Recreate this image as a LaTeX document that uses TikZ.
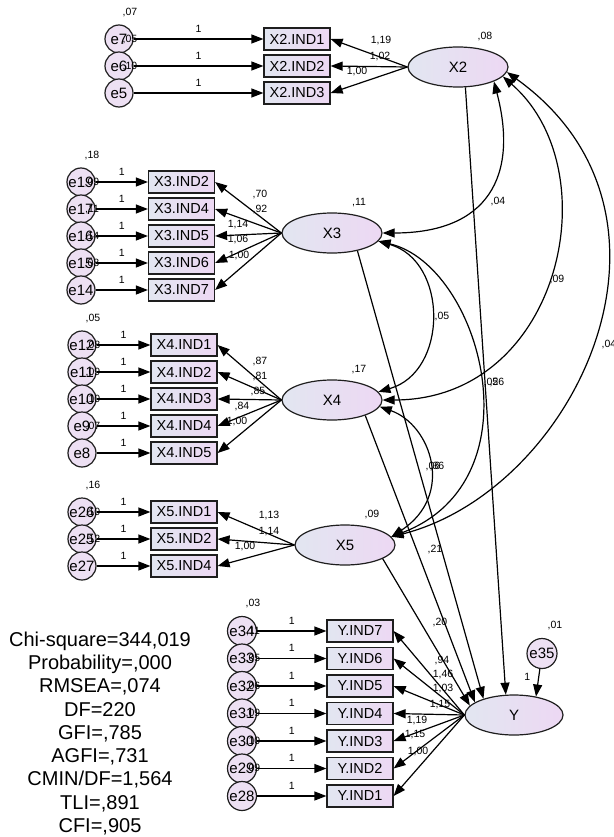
\documentclass[tikz,border=0pt]{standalone}
\usepackage{fontspec}
\setmainfont{Liberation Sans}
\definecolor{shadeleft}{RGB}{226,230,241}
\definecolor{shaderight}{RGB}{237,216,243}
\definecolor{errpink}{RGB}{237,224,243}
\definecolor{linegray}{RGB}{30,30,30}
\usetikzlibrary{arrows.meta,shapes.geometric}

\tikzset{
  obsbox/.style={draw=linegray,line width=1.2pt,left color=shadeleft,right color=shaderight,
    minimum width=66pt,minimum height=22pt,inner sep=0pt,font=\fontsize{14.5}{14.5}\selectfont},
  latent/.style={ellipse,draw=linegray,line width=1.2pt,left color=shadeleft,right color=shaderight,
    minimum width=100pt,minimum height=40pt,inner sep=0pt,font=\fontsize{15}{15}\selectfont},
  errc/.style={circle,draw=linegray,line width=1.2pt,fill=errpink,minimum size=28pt,inner sep=0pt,
    font=\fontsize{15}{15}\selectfont},
  est/.style={font=\fontsize{10.5}{10.5}\selectfont,inner sep=0pt},
  var/.style={est,xshift=11pt,yshift=7pt},
}

\begin{document}
\begin{tikzpicture}[x=1pt,y=-1pt,line width=1.2pt,>={Triangle[length=12pt,width=9pt]}]
  \useasboundingbox (0,0) rectangle (613,837);

  % factors
  \node[latent,label={[est,xshift=27pt,yshift=5pt]north:{,08}}] (X2) at (458,67) {X2};
  \node[latent,label={[est,xshift=27pt,yshift=5pt]north:{,11}}] (X3) at (332,233) {X3};
  \node[latent,label={[est,xshift=27pt,yshift=5pt]north:{,17}}] (X4) at (332,400) {X4};
  \node[latent,label={[est,xshift=27pt,yshift=5pt]north:{,09}}] (X5) at (345,545) {X5};
  \node[latent,minimum width=98pt] (Y) at (514,715) {Y};

  % X2 items
  \foreach \i/\e/\v/\y/\w/\lx/\ly in {1/7/{,07}/39/{1,19}/381/41, 2/6/{,05}/66/{1,02}/380/57,
      3/5/{,10}/93/{1,00}/357/72}{
    \node[obsbox] (x2i\i) at (297,\y) {X2.IND\i};
    \node[errc,label={[var]north:\v}] (e\e) at (119,\y) {e\e};
    \draw[->] (e\e) -- node[est,above=6pt] (one\e) {1} (x2i\i);
    \draw[->] (X2.west) -- (x2i\i.east);
    \node[est] (wx2i\i) at (\lx,\ly) {\w};
  }

  % X3 items
  \foreach \i/\e/\v/\y/\w/\lx/\ly in {2/19/{,18}/182/{,70}/260/195, 4/17/{,09}/209/{,92}/260/210,
      5/16/{,11}/236/{1,14}/238/225, 6/15/{,14}/263/{1,06}/238/240, 7/14/{,08}/290/{1,00}/239/256}{
    \node[obsbox] (x3i\i) at (181.5,\y) {X3.IND\i};
    \node[errc,label={[var]north:\v}] (e\e) at (81,\y) {e\e};
    \draw[->] (e\e) -- node[est,above=6pt] (one\e) {1} (x3i\i);
    \draw[->] (X3.west) -- (x3i\i.east);
    \node[est] (wx3i\i) at (\lx,\ly) {\w};
  }

  % X4 items
  \foreach \i/\e/\v/\y/\w/\lx/\ly in {1/12/{,05}/345/{,87}/260/362, 2/11/{,08}/372/{,81}/260/377,
      3/10/{,09}/399/{,85}/258/392, 4/9/{,10}/426/{,84}/242/407, 5/8/{,07}/453/{1,00}/237/422}{
    \node[obsbox] (x4i\i) at (184,\y) {X4.IND\i};
    \node[errc,label={[var]north:\v}] (e\e) at (82,\y) {e\e};
    \draw[->] (e\e) -- node[est,above=6pt] (one\e) {1} (x4i\i);
    \draw[->] (X4.west) -- (x4i\i.east);
    \node[est] (wx4i\i) at (\lx,\ly) {\w};
  }

  % X5 items
  \foreach \i/\e/\v/\y/\w/\lx/\ly in {1/26/{,16}/512/{1,13}/269/516, 2/25/{,10}/539/{1,14}/269/532,
      4/27/{,12}/566/{1,00}/245/546}{
    \node[obsbox] (x5i\i) at (184,\y) {X5.IND\i};
    \node[errc,label={[var]north:\v}] (e\e) at (82,\y) {e\e};
    \draw[->] (e\e) -- node[est,above=6pt] (one\e) {1} (x5i\i);
    \draw[->] (X5.west) -- (x5i\i.east);
    \node[est] (wx5i\i) at (\lx,\ly) {\w};
  }

  % Y items
  \foreach \i/\e/\v/\y/\w/\lx/\ly in {7/34/{,03}/631/{,94}/442/660, 6/33/{,11}/658.5/{1,46}/443/674,
      5/32/{,05}/686/{1,03}/443/688, 4/31/{,06}/713.5/{1,15}/440/705, 3/30/{,09}/741/{1,19}/417/720,
      2/29/{,10}/768.5/{1,15}/415/735, 1/28/{,09}/796/{1,00}/418/751}{
    \node[obsbox] (yi\i) at (360,\y) {Y.IND\i};
    \node[errc,minimum size=29pt,label={[var]north:\v}] (e\e) at (242,\y) {e\e};
    \draw[->] (e\e) -- node[est,above=6pt] (one\e) {1} (yi\i);
    \draw[->] (Y.west) -- (yi\i.east);
    \node[est] (wyi\i) at (\lx,\ly) {\w};
  }

  % disturbance of Y
  \node[errc,minimum size=30pt,label={[var,xshift=2pt]north:{,01}}] (e35) at (542,653.5) {e35};
  \draw[->] (e35) -- node[est,pos=0.3,left=8pt] (one35) {1} (Y.40);

  % regressions
  \draw[->] (X2.-70) -- (Y.112);
  \draw[->] (X3.-35) -- (Y.152);
  \draw[->] (X4.-25) -- (Y.162);
  \draw[->] (X5.-20) -- (Y.168);
  \node[est] (bx2) at (497,383) {,26};
  \node[est] (bx3) at (437,467) {,36};
  \node[est] (bx4) at (435,550) {,21};
  \node[est] (bx5) at (440,622) {,20};

  % covariances
  \draw[<->] (X3.east) .. controls +(105,0) and +(25,95) .. (X2.-22);
  \draw[<->] (X4.east) .. controls +(178,0) and +(108,94) .. (X2.-12);
  \draw[<->] (X5.10) .. controls +(184,-47) and +(199,143) .. (X2.-6);
  \draw[<->] (X3.-10) .. controls +(70,20) and +(70,-20) .. (X4.10);
  \draw[<->] (X3.-10) .. controls +(102,24) and +(149,-57) .. (X5.10);
  \draw[<->] (X4.-8) .. controls +(51,18) and +(64,-42) .. (X5.10);
  \node[est] (c23) at (498,202) {,04};
  \node[est] (c24) at (557,280) {,09};
  \node[est] (c25) at (609,345) {,04};
  \node[est] (c34) at (442,317) {,05};
  \node[est] (c35) at (491,383) {,05};
  \node[est] (c45) at (433,467) {,06};

  % fit indices
  \node[font=\fontsize{20}{23.3}\selectfont,align=center,anchor=north,inner sep=0pt] (fit) at (100,631)
    {Chi-square=344,019\\Probability=,000\\RMSEA=,074\\DF=220\\GFI=,785\\AGFI=,731\\
     CMIN/DF=1,564\\TLI=,891\\CFI=,905};
\end{tikzpicture}
\end{document}
